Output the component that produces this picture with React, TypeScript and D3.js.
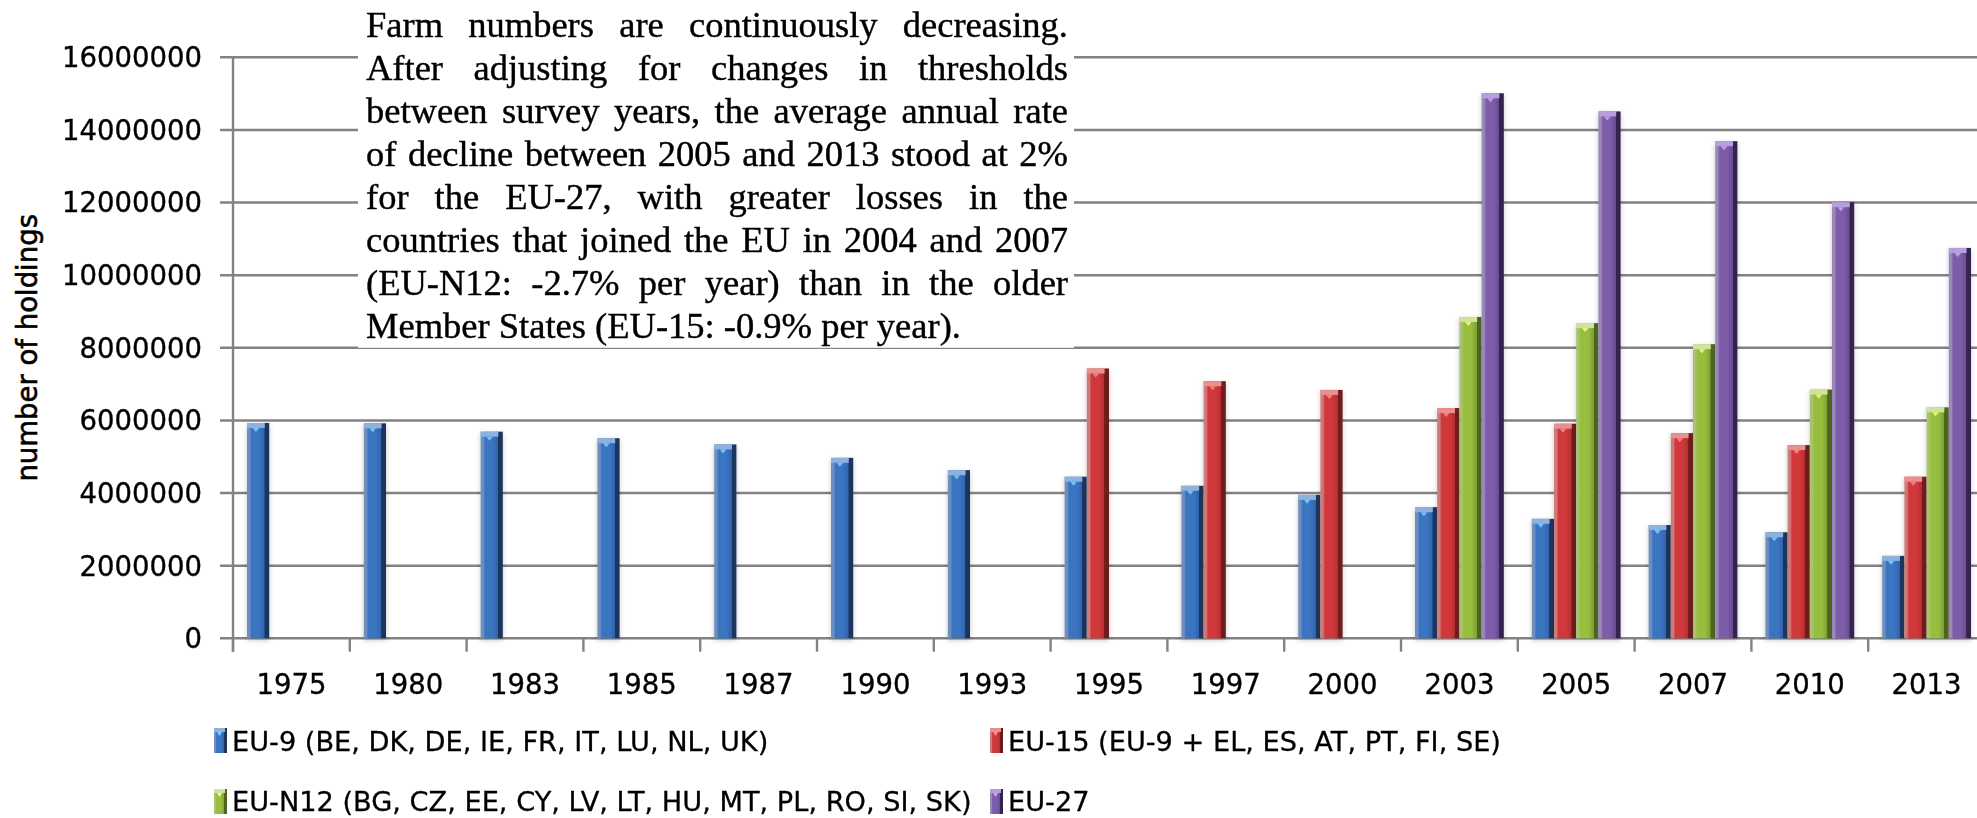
import React, { useEffect } from 'react';
import * as d3 from 'd3';

const categories = ['1975', '1980', '1983', '1985', '1987', '1990', '1993', '1995', '1997', '2000', '2003', '2005', '2007', '2010', '2013'];
const eu9 = [5930000, 5920000, 5690000, 5510000, 5340000, 4970000, 4630000, 4450000, 4200000, 3950000, 3610000, 3290000, 3120000, 2920000, 2270000];
const eu15 = [null, null, null, null, null, null, null, 7430000, 7080000, 6840000, 6340000, 5910000, 5650000, 5320000, 4450000];
const euN12 = [null, null, null, null, null, null, null, null, null, null, 8850000, 8680000, 8100000, 6850000, 6360000];
const eu27 = [null, null, null, null, null, null, null, null, null, null, 15010000, 14510000, 13690000, 12010000, 10750000];
const yTicks = [0, 2000000, 4000000, 6000000, 8000000, 10000000, 12000000, 14000000, 16000000];
const seriesKeys = ['eu9', 'eu15', 'euN12', 'eu27'];
const seriesNames = [
  'EU-9 (BE, DK, DE, IE, FR, IT, LU, NL, UK)',
  'EU-15 (EU-9 + EL, ES, AT, PT, FI, SE)',
  'EU-N12 (BG, CZ, EE, CY, LV, LT, HU, MT, PL, RO, SI, SK)',
  'EU-27',
];
const yTitle = 'number of holdings';
const noteLines = [
  'Farm numbers are continuously decreasing.',
  'After adjusting for changes in thresholds',
  'between survey years, the average annual rate',
  'of decline between 2005 and 2013 stood at 2%',
  'for the EU-27, with greater losses in the',
  'countries that joined the EU in 2004 and 2007',
  '(EU-N12: -2.7% per year) than in the older',
  'Member States (EU-15: -0.9% per year).',
];

const seriesValues = [eu9, eu15, euN12, eu27];

const palette = [
  { edgeL: '#6f8fbd', main: '#3a74c2', mid: '#2f64ab', edgeR: '#1b355c', cap: '#8fb1de', capHi: '#7fd0ff' },
  { edgeL: '#cf7a78', main: '#d0393b', mid: '#b52e30', edgeR: '#6e1a1b', cap: '#e89090', capHi: '#ff8a8a' },
  { edgeL: '#a9c26e', main: '#97be3e', mid: '#7e9f33', edgeR: '#4d6420', cap: '#cfe49a', capHi: '#f0ff8a' },
  { edgeL: '#9a89b8', main: '#7d5ca9', mid: '#684b92', edgeR: '#34234f', cap: '#b6a0dc', capHi: '#c9a8ff' },
];

const W = 1977;
const H = 818;
const plotLeft = 233;
const plotTop = 57.3;
const plotBottom = 638.3;
const bandW = 116.8;

let ctx: CanvasRenderingContext2D | null = null;
function measure(text: string, font: string): number {
  if (!ctx) ctx = document.createElement('canvas').getContext('2d');
  if (!ctx) return text.length * 16;
  ctx.font = font;
  return ctx.measureText(text).width;
}

export default function App() {
  useEffect(() => {
    document.body.style.margin = '0';
    document.body.style.overflow = 'hidden';
  }, []);

  const x0 = d3.scaleBand<string>().domain(categories).range([plotLeft, plotLeft + bandW * categories.length]).padding(0);
  const x1 = d3.scaleBand<string>().domain(seriesKeys).range([14, bandW - 14]).padding(0);
  const y = d3.scaleLinear().domain([0, 16000000]).range([plotBottom, plotTop]);
  const fmt = d3.format('d');
  const bw = x1.bandwidth();

  const gridColor = '#828282';
  const gridW = 2.4;
  const tickFont = 'DejaVu Sans, Verdana, sans-serif';

  // note box text layout (justified)
  const noteFontSize = 36.5;
  const noteFont = `${noteFontSize}px "Liberation Serif"`;
  const noteLeft = 366;
  const noteRight = 1068;
  const noteWidth = noteRight - noteLeft;
  const noteBaseline0 = 37;
  const noteLineH = 43;
  const spaceW = measure(' ', noteFont);

  const noteWords: { w: string; x: number; y: number }[] = [];
  noteLines.forEach((line, li) => {
    const words = line.split(' ');
    const widths = words.map((w) => measure(w, noteFont));
    const total = widths.reduce((a, b) => a + b, 0);
    const last = li === noteLines.length - 1;
    const gap = last || words.length < 2 ? spaceW : (noteWidth - total) / (words.length - 1);
    let cx = noteLeft;
    words.forEach((w, wi) => {
      noteWords.push({ w, x: cx, y: noteBaseline0 + li * noteLineH });
      cx += widths[wi] + gap;
    });
  });

  const legendItems = [
    { i: 0, mx: 214, my: 728, tx: 232, ty: 751 },
    { i: 1, mx: 990, my: 728, tx: 1008, ty: 751 },
    { i: 2, mx: 214, my: 789, tx: 232, ty: 811 },
    { i: 3, mx: 990, my: 789, tx: 1008, ty: 811 },
  ];

  return (
    <svg
      width={W}
      height={H}
      viewBox={`0 0 ${W} ${H}`}
      style={{ position: 'absolute', left: 0, top: 0, background: '#fff', display: 'block' }}
    >
      <defs>
        {palette.map((p, i) => (
          <linearGradient key={i} id={`g${i}`} x1="0" x2="1" y1="0" y2="0">
            <stop offset="0%" stopColor={p.edgeL} />
            <stop offset="12%" stopColor={p.edgeL} />
            <stop offset="20%" stopColor={p.main} />
            <stop offset="55%" stopColor={p.main} />
            <stop offset="78%" stopColor={p.mid} />
            <stop offset="80%" stopColor={p.edgeR} />
            <stop offset="100%" stopColor={p.edgeR} />
          </linearGradient>
        ))}
        <filter id="shadow" x="-30%" y="-5%" width="160%" height="115%">
          <feDropShadow dx="0" dy="2" stdDeviation="2.5" floodColor="#000" floodOpacity="0.22" />
        </filter>
      </defs>
      <rect x={0} y={0} width={W} height={H} fill="#fff" />

      {/* gridlines */}
      {yTicks.map((t) => (
        <line key={t} x1={220} x2={W} y1={y(t)} y2={y(t)} stroke={gridColor} strokeWidth={gridW} />
      ))}
      {/* y axis */}
      <line x1={plotLeft} x2={plotLeft} y1={y(16000000) - 1.2} y2={plotBottom + 13.4} stroke={gridColor} strokeWidth={gridW} />
      {/* x ticks */}
      {d3.range(categories.length + 1).map((i) => (
        <line
          key={i}
          x1={plotLeft + i * bandW}
          x2={plotLeft + i * bandW}
          y1={plotBottom}
          y2={plotBottom + 13.4}
          stroke={gridColor}
          strokeWidth={gridW}
        />
      ))}

      {/* bars */}
      <g filter="url(#shadow)">
        {seriesValues.map((vals, si) =>
          vals.map((v, ci) => {
            if (v == null) return null;
            const bx = (x0(categories[ci]) as number) + (x1(seriesKeys[si]) as number);
            const by = y(v);
            const bh = y(0) - by;
            const p = palette[si];
            return (
              <g key={`${si}-${ci}`}>
                <rect x={bx} y={by} width={bw} height={bh} fill={`url(#g${si})`} />
                <rect x={bx} y={by} width={bw * 0.8} height={5} fill={p.cap} />
                <polygon
                  points={`${bx + bw * 0.25},${by + 5} ${bx + bw * 0.55},${by + 5} ${bx + bw * 0.4},${by + 9}`}
                  fill={p.capHi}
                  opacity={0.85}
                />
              </g>
            );
          })
        )}
      </g>

      <g fontFamily={tickFont} fontSize={27.5} fill="#000" stroke="#000" strokeWidth={0.35}>
        {/* y tick labels */}
        {yTicks.map((t) => (
          <text key={t} x={202} y={y(t)} dy="0.36em" textAnchor="end">
            {fmt(t)}
          </text>
        ))}

        {/* x tick labels */}
        {categories.map((c) => (
          <text key={c} x={(x0(c) as number) + bandW / 2} y={694} textAnchor="middle">
            {c}
          </text>
        ))}

        {/* y title */}
        <text transform={`translate(37, ${(plotTop + plotBottom) / 2}) rotate(-90)`} textAnchor="middle" strokeWidth={0.6}>
          {yTitle}
        </text>
      </g>

      {/* note box */}
      <rect x={358} y={0} width={716} height={y(8000000)} fill="#fff" />
      <g
        fontFamily='"Liberation Serif", "Times New Roman", serif'
        fontSize={noteFontSize}
        fill="#000"
        stroke="#000"
        strokeWidth={0.4}
      >
        {noteWords.map((nw, i) => (
          <text key={i} x={nw.x} y={nw.y}>
            {nw.w}
          </text>
        ))}
      </g>

      {/* legend */}
      {legendItems.map((li) => {
        const p = palette[li.i];
        return (
          <g key={li.i}>
            <rect x={li.mx} y={li.my} width={13} height={25} fill={`url(#g${li.i})`} />
            <rect x={li.mx} y={li.my} width={11} height={4} fill={p.cap} />
            <polygon
              points={`${li.mx + 3},${li.my + 4} ${li.mx + 8},${li.my + 4} ${li.mx + 5.5},${li.my + 8}`}
              fill={p.capHi}
            />
            <text
              x={li.tx}
              y={li.ty}
              fontFamily={tickFont}
              fontSize={27.2}
              fill="#000"
              stroke="#000"
              strokeWidth={0.3}
            >
              {seriesNames[li.i]}
            </text>
          </g>
        );
      })}
    </svg>
  );
}
